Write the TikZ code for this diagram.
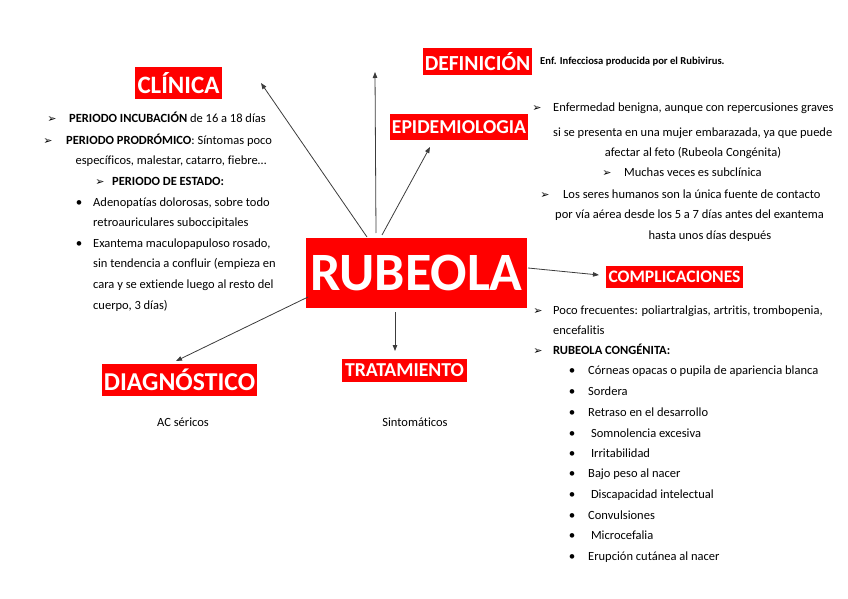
\documentclass[tikz,border=0pt]{standalone}
\usepackage{fontspec}
\setmainfont{Carlito}[Ligatures=NoCommon]
\newfontfamily\symf{DejaVu Sans}
\usetikzlibrary{arrows.meta}
\definecolor{boxred}{RGB}{255,0,0}
\definecolor{linegray}{RGB}{60,60,60}
\tikzset{
  redbox/.style={fill=boxred,text=white,font=\bfseries,inner sep=0pt,align=center},
  txt/.style={inner sep=0pt,anchor=base west,font=\fontsize{12.5}{14}\selectfont},
  ctxt/.style={inner sep=0pt,anchor=base,font=\fontsize{12.5}{14}\selectfont},
  arrmark/.style={inner sep=0pt,anchor=base,font=\symf\fontsize{11}{12}\selectfont},
  dotmark/.style={inner sep=0pt,anchor=base,font=\fontsize{13}{14}\selectfont},
  conn/.style={draw=linegray,line width=0.8pt,-{Triangle[length=6pt,width=4.5pt]}},
}
\newcommand{\arr}{➢}
\begin{document}
\begin{tikzpicture}[x=1pt,y=-1pt]
\useasboundingbox (0,0) rectangle (848,599);
% main boxes
\node[redbox,minimum width=221pt,minimum height=70pt,font=\bfseries\fontsize{54}{54}\selectfont] (rub) at (416.5,273) {RUBEOLA};
\node[redbox,minimum width=87pt,minimum height=32pt,font=\bfseries\fontsize{25}{25}\selectfont] (cli) at (178.5,83) {CLÍNICA};
\node[redbox,minimum width=109pt,minimum height=27pt,font=\bfseries\fontsize{21.5}{22}\selectfont] (def) at (477.5,61.5) {DEFINICIÓN};
\node[redbox,minimum width=138pt,minimum height=26pt,font=\bfseries\fontsize{19.7}{20}\selectfont] (epi) at (459,127) {EPIDEMIOLOGIA};
\node[redbox,minimum width=137pt,minimum height=22pt,font=\bfseries\fontsize{17.6}{18}\selectfont] (comp) at (674.5,277) {COMPLICACIONES};
\node[redbox,minimum width=125pt,minimum height=23pt,font=\bfseries\fontsize{19.7}{20}\selectfont] (trat) at (404.5,370.5) {TRATAMIENTO};
\node[redbox,minimum width=155pt,minimum height=32pt,font=\bfseries\fontsize{25.7}{26}\selectfont] (diag) at (179.5,380) {DIAGNÓSTICO};

% connector ends
\coordinate (sCli) at (367,237);
\coordinate (tCli) at (261,83);
\coordinate (sUp) at (376,233);
\coordinate (tUp) at (375,72);
\coordinate (sEpi) at (382,235);
\coordinate (tEpi) at (430,147);
\coordinate (sComp) at (528,268);
\coordinate (tComp) at (599,275);
\coordinate (sTrat) at (395,312);
\coordinate (tTrat) at (395,351);
\coordinate (sDiag) at (308,297);
\coordinate (tDiag) at (176,361);
\draw[conn] (sCli) -- (tCli);
\draw[conn] (sUp) -- (tUp);
\draw[conn] (sEpi) -- (tEpi);
\draw[conn] (sComp) -- (tComp);
\draw[conn] (sTrat) -- (tTrat);
\draw[conn] (sDiag) -- (tDiag);

% definicion text
\node[txt,font=\bfseries\fontsize{10.6}{11}\selectfont] (deft) at (540,65) {Enf. Infecciosa producida por el Rubivirus.};

% clinica text
\node[arrmark] (m1) at (52,122) {\arr};
\node[txt] (c1) at (69,122) {\textbf{PERIODO INCUBACIÓN} de 16 a 18 días};
\node[arrmark] (m2) at (48,144) {\arr};
\node[txt] (c2) at (66,144) {\textbf{PERIODO PRODRÓMICO}: Síntomas poco};
\node[ctxt] (c3) at (171,164) {específicos, malestar, catarro, fiebre…};
\node[arrmark] (m3) at (100,185) {\arr};
\node[txt] (c4) at (112,185) {\textbf{PERIODO DE ESTADO:}};
\node[dotmark] (b1) at (79,206) {•};
\node[txt] (c5) at (93,206) {Adenopatías dolorosas, sobre todo};
\node[txt] (c6) at (93,226) {retroauriculares suboccipitales};
\node[dotmark] (b2) at (79,247) {•};
\node[txt] (c7) at (93,247) {Exantema maculopapuloso rosado,};
\node[txt] (c8) at (93,267) {sin tendencia a confluir (empieza en};
\node[txt] (c9) at (93,288) {cara y se extiende luego al resto del};
\node[txt] (c10) at (93,309) {cuerpo, 3 días)};

% epidemiologia text
\node[arrmark] (m4) at (537,112) {\arr};
\node[txt] (e1) at (553,112) {Enfermedad benigna, aunque con repercusiones graves};
\node[txt] (e2) at (553,136) {si se presenta en una mujer embarazada, ya que puede};
\node[ctxt] (e3) at (693,157) {afectar al feto (Rubeola Congénita)};
\node[arrmark] (m5) at (607,176) {\arr};
\node[txt] (e4) at (624,176) {Muchas veces es subclínica};
\node[arrmark] (m6) at (545,198) {\arr};
\node[txt] (e5) at (563,198) {Los seres humanos son la única fuente de contacto};
\node[txt] (e6) at (555,218) {por vía aérea desde los 5 a 7 días antes del exantema};
\node[ctxt] (e7) at (710,239) {hasta unos días después};

% complicaciones text
\node[arrmark] (m7) at (538,314) {\arr};
\node[txt] (k1) at (553,314) {Poco frecuentes: poliartralgias, artritis, trombopenia,};
\node[txt] (k2) at (553,334) {encefalitis};
\node[arrmark] (m8) at (538,354) {\arr};
\node[txt] (k3) at (553,354) {\textbf{RUBEOLA CONGÉNITA:}};
\foreach \y/\t/\n in {374/{Córneas opacas o pupila de apariencia blanca}/1,
                      395/{Sordera}/2,
                      416/{Retraso en el desarrollo}/3,
                      437/{\ Somnolencia excesiva}/4,
                      457/{\ Irritabilidad}/5,
                      477/{Bajo peso al nacer}/6,
                      498/{\ Discapacidad intelectual}/7,
                      519/{Convulsiones}/8,
                      539/{\ Microcefalia}/9,
                      560/{Erupción cutánea al nacer}/10}{
  \node[dotmark] (kb\n) at (572,\y) {•};
  \node[txt] (kl\n) at (588,\y) {\t};
}

% diagnostico / tratamiento
\node[ctxt] (diagt) at (183,426) {AC séricos};
\node[ctxt] (tratt) at (415,426) {Sintomáticos};
\end{tikzpicture}
\end{document}
